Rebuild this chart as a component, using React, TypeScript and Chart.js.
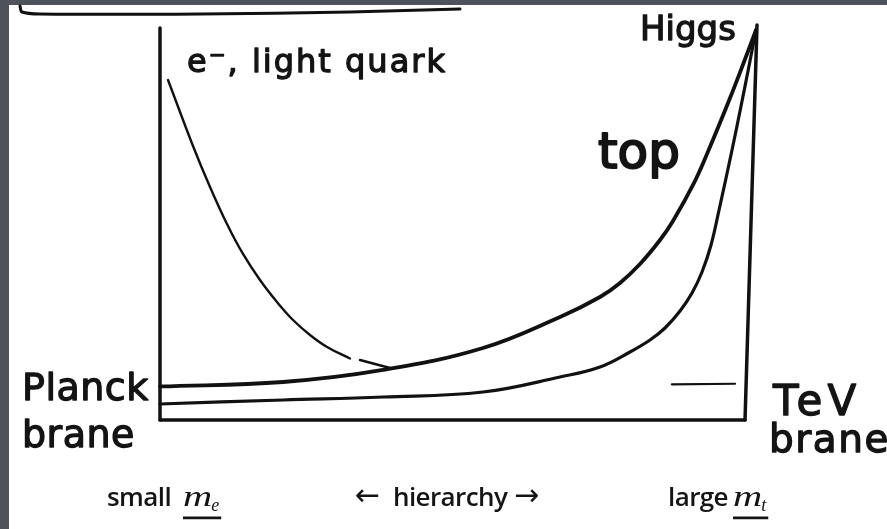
import React, { useEffect, useRef } from "react";
import { Chart, registerables } from "chart.js";

Chart.register(...registerables);

// Domain: x = position across the extra dimension (0 = Planck brane, 100 = TeV brane)
// y = wave-function profile (0 .. 100)
const topX = [0, 21.03, 38.12, 55.21, 68.38, 75.21, 78.63, 82.05, 85.47, 87.69, 91.11, 93.5, 97.44, 100.34, 101.88];
const topY = [8.55, 9.69, 12.76, 18.37, 26.28, 31.38, 34.95, 39.8, 45.92, 50.77, 59.95, 67.86, 82.14, 93.37, 99.49];

const lowerX = [0, 21.03, 38.12, 55.21, 68.38, 75.21, 80.34, 83.76, 86.32, 88.89, 90.94, 92.65, 94.19, 95.56, 97.78, 99.32, 100.85, 101.88];
const lowerY = [4.08, 5.1, 5.87, 7.14, 10.97, 13.52, 17.35, 20.41, 23.47, 27.81, 32.4, 37.76, 44.64, 53.57, 68.88, 80.1, 91.58, 99.49];

const lightX = [1.37, 5.64, 8.55, 11.45, 14.19, 17.09, 20.0, 22.74, 25.64, 28.55, 32.48, 33.3, 34.19, 39.32];
const lightY: (number | null)[] = [86.73, 69.9, 59.44, 50.0, 42.35, 35.71, 30.1, 25.51, 21.68, 18.62, 15.69, null, 15.31, 13.27];

const leftAxisX = [0, 0];
const leftAxisY = [100, 0];
const bottomAxisX = [0, 100];
const bottomAxisY = [0, 0];
const rightAxisX = [100, 102.05];
const rightAxisY = [0, 100.77];

const dashX = [87.5, 98.3];
const dashY = [9.1, 9.25];

const boxX = [-23.93, -23.59, -20.51, 6.84, 32.48, 51.28];
const boxY = [105.6, 104.08, 103.57, 103.57, 104.08, 104.85];

const HAND = '"DejaVu Sans", sans-serif';
const PRINT = '"Open Sans", sans-serif';

const labelTexts = ["e⁻, light quark", "Higgs", "top", "Planck", "brane", "TeV", "brane"];
const labelX = [4.62, 82.05, 74.87, -23.59, -23.59, 104.79, 104.1];
const labelY = [88.78, 96.94, 64.29, 5.1, -6.89, 1.28, -8.16];
const labelSize = [32, 34, 50, 38, 38, 42, 39];
const labelSpacing = [2, 0, 0, 0.5, 0.5, 5, 1.5];

const bottomTexts = ["small", "hierarchy", "large"];
const bottomX = [-9.06, 39.83, 86.84];
const arrowTexts = ["←", "→"];
const arrowX = [33.33, 60.51];
const massX = [3.93, 97.95];
const massSub = ["e", "t"];
const bottomBaseY = -21.9;

const pts = (xs: number[], ys: (number | null)[]) => xs.map((x, i) => ({ x, y: ys[i] }));

const framePlugin = {
  id: "frame",
  beforeDraw(chart: any) {
    const { ctx, width, height } = chart;
    ctx.save();
    ctx.fillStyle = "#ffffff";
    ctx.fillRect(0, 0, width, height);
    ctx.fillStyle = "#4e525a";
    ctx.fillRect(0, 0, 9, height);
    ctx.fillRect(0, 0, width, 5);
    ctx.restore();
  },
};

const textPlugin = {
  id: "texts",
  afterDatasetsDraw(chart: any) {
    const { ctx, scales } = chart;
    const sx = scales.x;
    const sy = scales.y;
    ctx.save();
    ctx.fillStyle = "#141414";
    ctx.strokeStyle = "#141414";
    ctx.textBaseline = "alphabetic";
    ctx.textAlign = "left";
    ctx.lineJoin = "round";
    labelTexts.forEach((t, i) => {
      ctx.font = `${labelSize[i]}px ${HAND}`;
      (ctx as any).letterSpacing = `${labelSpacing[i]}px`;
      const px = sx.getPixelForValue(labelX[i]);
      const py = sy.getPixelForValue(labelY[i]);
      ctx.lineWidth = i === 2 ? 2 : 1.3;
      ctx.fillText(t, px, py);
      ctx.strokeText(t, px, py);
    });
    const by = sy.getPixelForValue(bottomBaseY);
    ctx.font = `600 26px ${PRINT}`;
    (ctx as any).letterSpacing = "-0.6px";
    bottomTexts.forEach((t, i) => {
      ctx.fillText(t, sx.getPixelForValue(bottomX[i]), by);
    });
    (ctx as any).letterSpacing = "0px";
    ctx.font = `30px "DejaVu Sans", sans-serif`;
    arrowTexts.forEach((t, i) => {
      ctx.fillText(t, sx.getPixelForValue(arrowX[i]), by - 1);
    });
    massX.forEach((mx, i) => {
      const px = sx.getPixelForValue(mx);
      ctx.font = `italic 30px "Liberation Serif", serif`;
      const mw = ctx.measureText("m").width * 1.35;
      ctx.save();
      ctx.translate(px, by);
      ctx.scale(1.35, 1);
      ctx.fillText("m", 0, 0);
      ctx.restore();
      ctx.font = `italic 18px "Liberation Serif", serif`;
      ctx.fillText(massSub[i], px + mw - 1, by + 5);
      const sw = ctx.measureText(massSub[i]).width;
      ctx.beginPath();
      ctx.lineWidth = 2.8;
      ctx.moveTo(px, by + 12);
      ctx.lineTo(px + mw + sw + 1, by + 12);
      ctx.stroke();
    });
    ctx.restore();
  },
};

export default function App() {
  const ref = useRef<HTMLCanvasElement | null>(null);
  useEffect(() => {
    if (!ref.current) return;
    const line = (data: any[], width: number, tension: number) => ({
      data,
      showLine: true,
      borderColor: "#111111",
      borderWidth: width,
      pointRadius: 0,
      pointHoverRadius: 0,
      fill: false,
      spanGaps: false,
      tension,
      borderCapStyle: "round" as const,
      borderJoinStyle: "round" as const,
    });
    const chart = new Chart(ref.current, {
      type: "scatter",
      data: {
        datasets: [
          line(pts(leftAxisX, leftAxisY), 3.5, 0),
          line(pts(bottomAxisX, bottomAxisY), 3.5, 0),
          line(pts(rightAxisX, rightAxisY), 3.5, 0),
          line(pts(topX, topY), 3.8, 0.4),
          line(pts(lowerX, lowerY), 3.2, 0.4),
          line(pts(lightX, lightY), 2.4, 0.4),
          line(pts(dashX, dashY), 2.2, 0),
          line(pts(boxX, boxY), 3, 0.3),
        ],
      },
      options: {
        animation: false,
        responsive: true,
        maintainAspectRatio: false,
        layout: { padding: 0 },
        plugins: { legend: { display: false }, tooltip: { enabled: false } },
        events: [],
        scales: {
          x: { type: "linear", min: -27.35, max: 124.27, display: false },
          y: { type: "linear", min: -27.81, max: 107.14, display: false },
        },
      },
      plugins: [framePlugin, textPlugin],
    });
    return () => chart.destroy();
  }, []);
  return (
    <div style={{ position: "absolute", left: 0, top: 0, width: 887, height: 529 }}>
      <canvas ref={ref} />
    </div>
  );
}
